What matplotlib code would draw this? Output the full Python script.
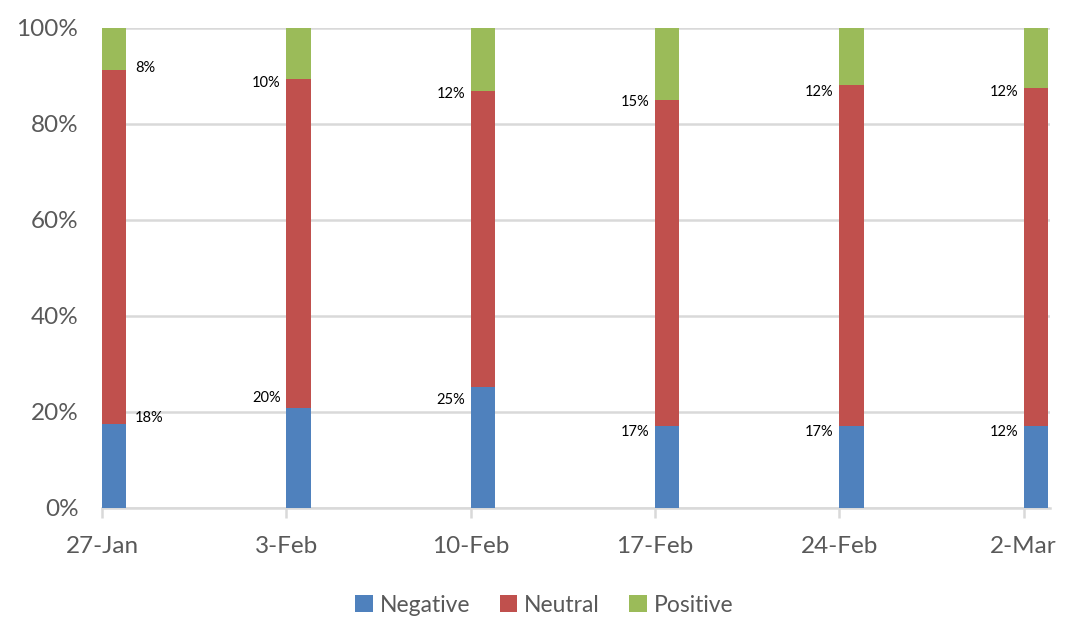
import matplotlib.pyplot as plt
import matplotlib.dates as mdates
import numpy as np
import pandas as pd

# Data
weeks = pd.to_datetime(['2020-01-27', '2020-02-03', '2020-02-10', '2020-02-17', '2020-02-24', '2020-03-02'])
negative = np.array([17.6, 20.8, 25.2, 17.0, 17.0, 17.0])
positive = np.array([8.7, 10.6, 13.1, 14.9, 11.9, 12.4])
neutral = 100 - negative - positive
neg_labels = ['18%', '20%', '25%', '17%', '17%', '12%']
pos_labels = ['8%', '10%', '12%', '15%', '12%', '12%']

c_neg, c_neu, c_pos = '#4F81BD', '#C0504D', '#9BBB59'
grey = '#595959'
plt.rcParams['font.family'] = ['Lato', 'DejaVu Sans']

fig = plt.figure(figsize=(10.82, 6.36), dpi=100)
ax = fig.add_axes([102 / 1082, 1 - 508 / 636, 948 / 1082, 480 / 636])

w = 0.93  # bar width in days
ax.bar(weeks, negative, width=w, align='edge', color=c_neg, label='Negative', zorder=3)
ax.bar(weeks, neutral, width=w, align='edge', bottom=negative, color=c_neu, label='Neutral', zorder=3)
ax.bar(weeks, positive, width=w, align='edge', bottom=negative + neutral, color=c_pos, label='Positive', zorder=3)

# data labels: first week to the right of the bar, rest to the left
neg_dy = [4, 7, -9, -4, -4, -4]
pos_dy = [1, -3, -2, -2, -5, -3]
for i, d in enumerate(weeks):
    if i == 0:
        x, ha, dx = d + pd.Timedelta(days=w), 'left', 6
    else:
        x, ha, dx = d, 'right', -4
    ax.annotate(neg_labels[i], (x, negative[i]), xytext=(dx, neg_dy[i]), textcoords='offset points',
                ha=ha, va='center', fontsize=10.5, color='black')
    ax.annotate(pos_labels[i], (x, negative[i] + neutral[i]), xytext=(dx, pos_dy[i]), textcoords='offset points',
                ha=ha, va='center', fontsize=10.5, color='black')

ax.set_ylim(0, 100)
ax.set_xlim(weeks[0], weeks[0] + pd.Timedelta(days=36))
ax.set_yticks(np.arange(0, 101, 20))
ax.set_yticklabels([f'{v}%' for v in range(0, 101, 20)])
ax.set_xticks(weeks)
ax.xaxis.set_major_formatter(mdates.DateFormatter('%-d-%b'))

ax.grid(axis='y', color='#D9D9D9', linewidth=1.8, zorder=0)
for s in ['top', 'right', 'left']:
    ax.spines[s].set_visible(False)
ax.spines['bottom'].set_color('#D9D9D9')
ax.spines['bottom'].set_linewidth(1.8)
ax.tick_params(axis='y', length=0, pad=17, labelsize=17.5, labelcolor=grey)
ax.tick_params(axis='x', length=7, width=1.8, color='#D9D9D9', pad=13, labelsize=17.5, labelcolor=grey)

fig.legend(loc='center', bbox_to_anchor=(0.503, 1 - 605 / 636), ncol=3, frameon=False,
           fontsize=16.5, labelcolor=grey, handlelength=0.75, handleheight=0.75,
           handletextpad=0.3, columnspacing=1.3)

fig.savefig('out.png', dpi=100)
